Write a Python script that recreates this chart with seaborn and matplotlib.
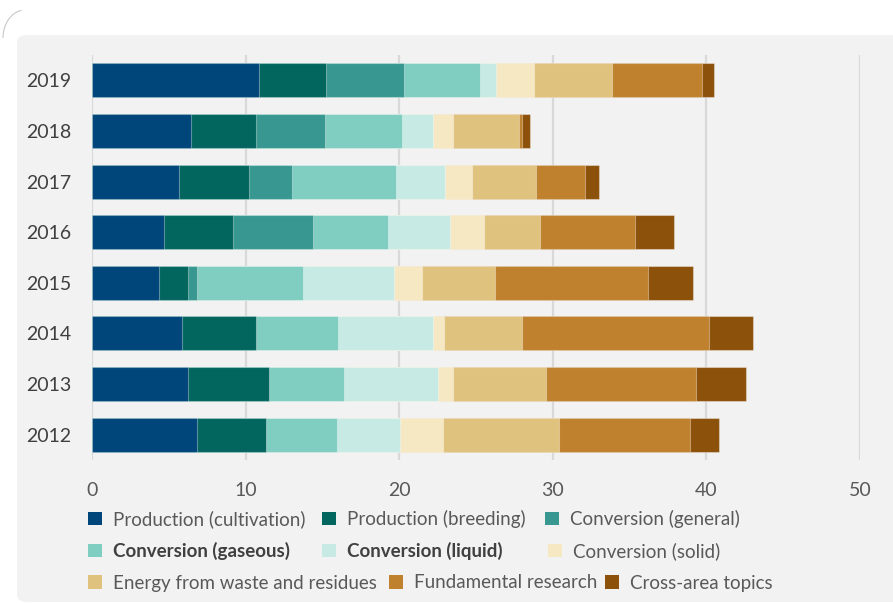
import numpy as np
import pandas as pd
import matplotlib.pyplot as plt
import seaborn as sns
from matplotlib.patches import Patch, FancyBboxPatch, Arc

# ==========================================
# DATA
# ==========================================

years = ['2019', '2018', '2017', '2016', '2015', '2014', '2013', '2012']

cultivation = [10.84, 6.43, 5.67, 4.67, 4.34, 5.89, 6.28, 6.82]
breeding = [4.41, 4.26, 4.56, 4.48, 1.94, 4.80, 5.26, 4.48]
general = [5.09, 4.50, 2.76, 5.23, 0.54, 0.0, 0.0, 0.0]
gaseous = [4.89, 4.99, 6.83, 4.87, 6.89, 5.32, 4.86, 4.63]
liquid = [1.08, 2.02, 3.15, 4.04, 5.98, 6.19, 6.13, 4.10]
solid = [2.46, 1.31, 1.76, 2.22, 1.80, 0.70, 0.98, 2.79]
waste = [5.08, 4.26, 4.19, 3.63, 4.74, 5.09, 6.02, 7.56]
fundamental = [5.89, 0.22, 3.17, 6.19, 9.95, 12.21, 9.82, 8.58]
cross_area = [0.78, 0.54, 0.94, 2.54, 2.93, 2.85, 3.26, 1.85]

labels = [
    'Production (cultivation)', 'Production (breeding)', 'Conversion (general)',
    'Conversion (gaseous)', 'Conversion (liquid)', 'Conversion (solid)',
    'Energy from waste and residues', 'Fundamental research', 'Cross-area topics'
]
colors = ['#01467A', '#02665E', '#389790', '#80CDC1', '#C7EAE5',
          '#F6E8C3', '#DFC27D', '#BF812D', '#8C510A']
bold_labels = ['Conversion (gaseous)', 'Conversion (liquid)']

df = pd.DataFrame({
    'year': years,
    labels[0]: cultivation,
    labels[1]: breeding,
    labels[2]: general,
    labels[3]: gaseous,
    labels[4]: liquid,
    labels[5]: solid,
    labels[6]: waste,
    labels[7]: fundamental,
    labels[8]: cross_area,
})

# cumulative totals for stacking
cum = df[labels].cumsum(axis=1)
cum['year'] = df['year']

# ==========================================
# STYLE
# ==========================================

sns.set_style('white', {'axes.facecolor': '#f2f2f2'})
plt.rcParams['font.family'] = ['Lato', 'DejaVu Sans']

fig = plt.figure(figsize=(8.93, 6.03), dpi=100)
fig.patch.set_facecolor('white')

# grey rounded panel behind the chart
panel = FancyBboxPatch((17 / 893, 1 / 603), 900 / 893, 567 / 603,
                       boxstyle='round,pad=0,rounding_size=0.012',
                       transform=fig.transFigure, facecolor='#f2f2f2',
                       edgecolor='none', zorder=-10)
fig.patches.append(panel)
corner = Arc((25 / 893, 1 - 38 / 603), 44 / 893, 56 / 603, theta1=95, theta2=180,
             transform=fig.transFigure, color='#c8c8c8', linewidth=0.8, zorder=-10)
fig.patches.append(corner)

ax = fig.add_axes([92 / 893, 1 - 460 / 603, 768 / 893, 405 / 603])
ax.set_facecolor('#f2f2f2')
ax.set_zorder(1)

# ==========================================
# STACKED BARS (draw totals from last to first)
# ==========================================

for label, color in zip(labels[::-1], colors[::-1]):
    sns.barplot(
        data=cum, x=label, y='year', order=years, orient='h',
        color=color, saturation=1, width=0.67, ax=ax,
        edgecolor=(1, 1, 1, 0.35), linewidth=0.8
    )

ax.set_xlim(0, 50)
ax.set_xticks([0, 10, 20, 30, 40, 50])
ax.set_xlabel('')
ax.set_ylabel('')
ax.xaxis.grid(True, color='#d9d9d9', linewidth=1.6)
ax.yaxis.grid(False)
ax.set_axisbelow(True)
sns.despine(ax=ax, left=True, bottom=True)
ax.tick_params(axis='x', length=0, pad=16, labelsize=14, labelcolor='#595959')
ax.tick_params(axis='y', length=0, pad=15, labelsize=14, labelcolor='#404040')

# ==========================================
# LEGEND (free-flowing rows, one entry each)
# ==========================================

handles = [Patch(facecolor=c, edgecolor='none', label=l) for l, c in zip(labels, colors)]

# pixel anchors of each legend entry (left of swatch, row centre)
entry_x = [88, 322, 545, 88, 322, 548, 88, 389, 605]
entry_y = [519, 519, 519, 551, 551, 551, 583, 583, 583]

for h, px, py in zip(handles, entry_x, entry_y):
    leg = fig.legend(
        handles=[h], loc='center left',
        bbox_to_anchor=(px / 893, 1 - py / 603),
        frameon=False, fontsize=13.5,
        handlelength=0.75, handleheight=0.7, handletextpad=0.6,
        borderpad=0, borderaxespad=0
    )
    t = leg.get_texts()[0]
    if t.get_text() in bold_labels:
        t.set_fontweight('bold')
        t.set_color('#404040')
    else:
        t.set_color('#595959')

plt.savefig('out.png', dpi=100, facecolor='white')
